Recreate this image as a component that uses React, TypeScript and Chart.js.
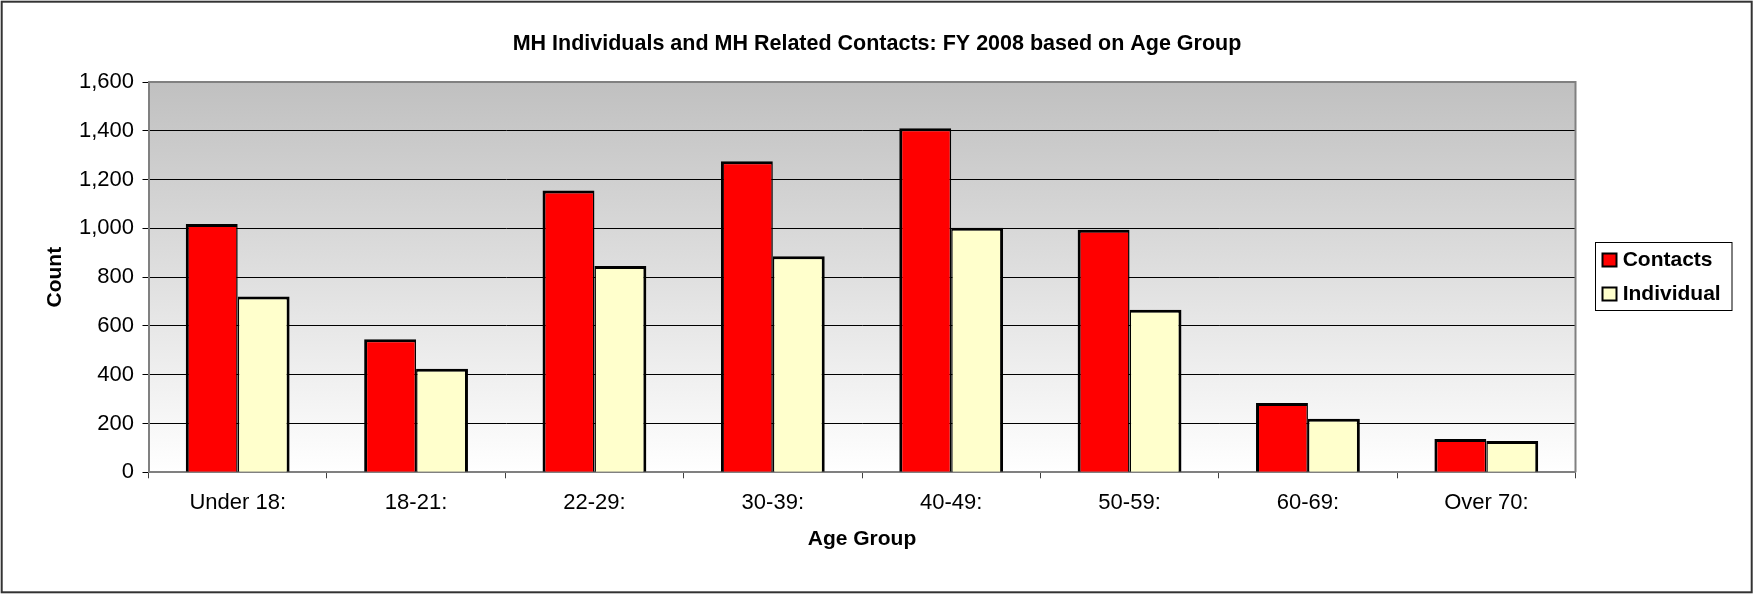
import React, { useEffect, useRef } from "react";
import { Chart, registerables } from "chart.js";

Chart.register(...registerables);

// ---- Data ----
const categories = ["Under 18:", "18-21:", "22-29:", "30-39:", "40-49:", "50-59:", "60-69:", "Over 70:"];
const contactsValues = [1018, 545, 1155, 1275, 1410, 994, 284, 136];
const individualValues = [721, 424, 846, 886, 1002, 666, 220, 128];
const seriesLabels = ["Contacts", "Individual"];
const yTickValues = [0, 200, 400, 600, 800, 1000, 1200, 1400, 1600];
const chartTitle = "MH Individuals and MH Related Contacts: FY 2008 based on Age Group";
const xAxisTitle = "Age Group";
const yAxisTitle = "Count";

// ---- Styles ----
const FONT = "'Liberation Sans', Arial, Helvetica, sans-serif";
const W = 1754;
const H = 596;
const Y_AXIS_WIDTH = 148.5;
const X_AXIS_HEIGHT = 123.7;
const RIGHT_SPACE = 178.5;
const CONTACT_COLOR = "#FF0000";
const INDIVIDUAL_COLOR = "#FFFFCC";
const TICK_FONT_SIZE = 22;

const backgroundPlugin = {
  id: "bgPlot",
  beforeDraw(chart: any) {
    const { ctx, chartArea } = chart;
    ctx.save();
    ctx.fillStyle = "#ffffff";
    ctx.fillRect(0, 0, chart.width, chart.height);
    const g = ctx.createLinearGradient(0, chartArea.top, 0, chartArea.bottom);
    g.addColorStop(0, "#c0c0c0");
    g.addColorStop(1, "#ffffff");
    ctx.fillStyle = g;
    ctx.fillRect(chartArea.left, chartArea.top, chartArea.right - chartArea.left, chartArea.bottom - chartArea.top);
    ctx.restore();
  },
};

const framePlugin = {
  id: "frameAndLegend",
  afterDatasetsDraw(chart: any) {
    const { ctx, chartArea } = chart;
    ctx.save();
    ctx.strokeStyle = "#808080";
    ctx.lineWidth = 2;
    ctx.beginPath();
    ctx.moveTo(chartArea.left, chartArea.top);
    ctx.lineTo(chartArea.right, chartArea.top);
    ctx.lineTo(chartArea.right, chartArea.bottom);
    ctx.stroke();
    ctx.restore();
  },
  afterDraw(chart: any) {
    const { ctx } = chart;
    ctx.save();
    // outer chart border
    ctx.strokeStyle = "#333333";
    ctx.lineWidth = 2;
    ctx.strokeRect(1.7, 1.7, 1750, 590.6);

    // legend
    const lx = 1595.5, ly = 242.5, lw = 136.5, lh = 68;
    ctx.fillStyle = "#ffffff";
    ctx.fillRect(lx, ly, lw, lh);
    ctx.strokeStyle = "#000000";
    ctx.lineWidth = 1;
    ctx.strokeRect(lx, ly, lw, lh);
    const rowsY = [260, 294];
    chart.data.datasets.forEach((ds: any, i: number) => {
      const cy = rowsY[i];
      ctx.fillStyle = ds.backgroundColor;
      ctx.fillRect(1602.5, cy - 6.5, 14, 13);
      ctx.strokeStyle = "#000";
      ctx.lineWidth = 2;
      ctx.strokeRect(1602.5, cy - 6.5, 14, 13);
      ctx.fillStyle = "#000";
      ctx.font = `bold 21px ${FONT}`;
      ctx.textBaseline = "middle";
      ctx.textAlign = "left";
      ctx.fillText(ds.label, 1622.7, cy);
    });
    ctx.restore();
  },
};

export default function App() {
  const canvasRef = useRef<HTMLCanvasElement | null>(null);

  useEffect(() => {
    if (!canvasRef.current) return;
    Chart.defaults.font.family = FONT;
    Chart.defaults.color = "#000";
    const chart = new Chart(canvasRef.current, {
      type: "bar",
      data: {
        labels: categories,
        datasets: [
          {
            label: seriesLabels[0],
            data: contactsValues,
            backgroundColor: CONTACT_COLOR,
            borderColor: "#000000",
            borderWidth: { top: 3, left: 3, right: 1.5, bottom: 0 } as any,
            categoryPercentage: 0.582,
            barPercentage: 1.0,
          },
          {
            label: seriesLabels[1],
            data: individualValues,
            backgroundColor: INDIVIDUAL_COLOR,
            borderColor: "#000000",
            borderWidth: { top: 3, left: 1.5, right: 3, bottom: 0 } as any,
            categoryPercentage: 0.582,
            barPercentage: 1.0,
          },
        ],
      },
      options: {
        responsive: false,
        animation: false,
        devicePixelRatio: 1,
        layout: { padding: 0 },
        plugins: {
          legend: { display: false },
          tooltip: { enabled: false },
          title: {
            display: true,
            text: chartTitle,
            color: "#000",
            font: { size: 21.5, weight: "bold", family: FONT, lineHeight: 1.2 },
            padding: { top: 31.1, bottom: 25.1 },
          },
        },
        scales: {
          x: {
            offset: true,
            grid: {
              display: true,
              offset: true,
              drawOnChartArea: false,
              drawTicks: true,
              tickLength: 6,
              tickColor: "#404040",
              lineWidth: 1,
            },
            border: { display: true, color: "#808080", width: 2 },
            ticks: {
              color: "#000",
              font: { size: TICK_FONT_SIZE, family: FONT, lineHeight: 1.2 },
              padding: 11,
              maxRotation: 0,
              autoSkip: false,
            },
            title: {
              display: true,
              text: xAxisTitle,
              color: "#000",
              font: { size: 21, weight: "bold", family: FONT, lineHeight: 1.2 },
              padding: { top: 0, bottom: 43.9 },
            },
            afterFit: (s: any) => {
              s.height = X_AXIS_HEIGHT;
            },
          },
          y: {
            min: 0,
            max: 1600,
            grid: {
              display: true,
              drawOnChartArea: true,
              color: "#000000",
              lineWidth: 1,
              drawTicks: true,
              tickLength: 6,
              tickColor: "#000000",
            },
            border: { display: true, color: "#808080", width: 2 },
            afterBuildTicks: (s: any) => {
              s.ticks = yTickValues.map((v) => ({ value: v }));
            },
            ticks: {
              color: "#000",
              font: { size: TICK_FONT_SIZE, family: FONT, lineHeight: 1.2 },
              padding: 8.5,
              callback: (v: any) => Number(v).toLocaleString("en-US"),
            },
            title: {
              display: true,
              text: yAxisTitle,
              color: "#000",
              font: { size: 21, weight: "bold", family: FONT, lineHeight: 1.2 },
              padding: { top: 42.9, bottom: 0 },
            },
            afterFit: (s: any) => {
              s.width = Y_AXIS_WIDTH;
            },
          },
          // invisible right-hand spacer that leaves room for the legend
          spacer: {
            type: "linear",
            position: "right",
            display: true,
            grid: { display: false, drawTicks: false },
            border: { display: false },
            ticks: { display: false },
            title: { display: false },
            afterFit: (s: any) => {
              s.width = RIGHT_SPACE;
            },
          },
        },
      } as any,
      plugins: [backgroundPlugin, framePlugin],
    });
    return () => chart.destroy();
  }, []);

  return (
    <div style={{ position: "absolute", left: 0, top: 0, width: W, height: H, background: "#fff" }}>
      <canvas ref={canvasRef} width={W} height={H} style={{ display: "block", width: W, height: H }} />
    </div>
  );
}
